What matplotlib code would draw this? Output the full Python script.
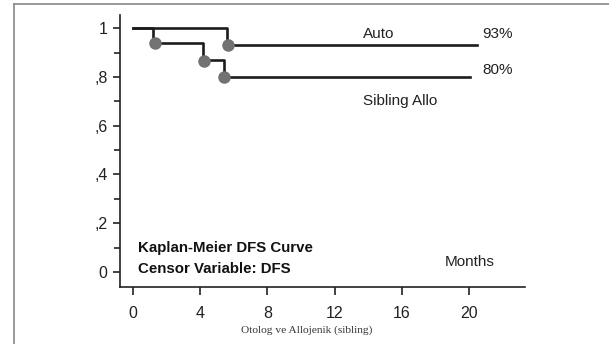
import matplotlib.pyplot as plt
from matplotlib.lines import Line2D

# Kaplan-Meier step data (months, survival)
auto_t = [0, 5.6, 20.5]
auto_s = [1.0, 0.93, 0.93]
allo_t = [0, 1.2, 4.2, 5.4, 20.05]
allo_s = [1.0, 0.94, 0.87, 0.80, 0.80]

# censor marks
auto_cx = [5.65]
auto_cy = [0.93]
allo_cx = [1.3, 4.25, 5.45]
allo_cy = [0.94, 0.865, 0.80]

xticks = [0, 4, 8, 12, 16, 20]
yticks = [0, 0.2, 0.4, 0.6, 0.8, 1.0]
ylabels = ['0', ',2', ',4', ',6', ',8', '1']

plt.rcParams['font.family'] = ['Liberation Sans', 'DejaVu Sans']

fig = plt.figure(figsize=(6.09, 3.44), dpi=100)
ax = fig.add_axes([0.197, 0.1657, 0.665, 0.79])

line_c = '#1c1c1c'
dot_c = '#727272'

ax.step(auto_t, auto_s, where='post', color=line_c, lw=1.9)
ax.step(allo_t, allo_s, where='post', color=line_c, lw=1.9)
ax.plot(auto_cx, auto_cy, 'o', color=dot_c, ms=8, zorder=3)
ax.plot(allo_cx, allo_cy, 'o', color=dot_c, ms=8, zorder=3)

ax.set_xlim(-0.77, 23.33)
ax.set_ylim(-0.0615, 1.053)
ax.spines['top'].set_visible(False)
ax.spines['right'].set_visible(False)
for s in ['left', 'bottom']:
    ax.spines[s].set_linewidth(1.2)
    ax.spines[s].set_color('#222222')

ax.set_xticks(xticks)
ax.set_xticklabels([str(v) for v in xticks])
ax.set_yticks(yticks)
ax.set_yticklabels(ylabels)
ax.set_yticks([0.1, 0.3, 0.5, 0.7, 0.9], minor=True)
ax.tick_params(axis='x', length=6, width=1.2, pad=8, labelsize=11.5, colors='#222222')
ax.tick_params(axis='y', which='major', length=5, width=1.2, pad=4, labelsize=11.5, colors='#222222')
ax.tick_params(axis='y', which='minor', length=4, width=1.2, colors='#222222')

ax.text(14.6, 0.975, 'Auto', fontsize=11, ha='center', va='center', color='#222222')
ax.text(21.7, 0.975, '93%', fontsize=11, ha='center', va='center', color='#222222')
ax.text(21.7, 0.83, '80%', fontsize=11, ha='center', va='center', color='#222222')
ax.text(15.9, 0.70, 'Sibling Allo', fontsize=11, ha='center', va='center', color='#222222')
ax.text(0.3, 0.10, 'Kaplan-Meier DFS Curve', fontsize=10.8, fontweight='bold', ha='left', va='center', color='#111111')
ax.text(0.3, 0.013, 'Censor Variable: DFS', fontsize=10.8, fontweight='bold', ha='left', va='center', color='#111111')
ax.text(20.06, 0.042, 'Months', fontsize=11, ha='center', va='center', color='#222222')

fig.text(307 / 609, 1 - 330 / 344, 'Otolog ve Allojenik (sibling)', family='Liberation Serif',
         fontsize=8.2, ha='center', va='center', color='#333333')

# grey frame around the figure (top and left)
fig.add_artist(Line2D([13.5 / 609, 1], [1 - 3.5 / 344, 1 - 3.5 / 344], color='#888888', lw=1.2))
fig.add_artist(Line2D([13.5 / 609, 13.5 / 609], [0, 1 - 3.5 / 344], color='#888888', lw=1.2))

fig.savefig('out.png', dpi=100)
plt.close()
